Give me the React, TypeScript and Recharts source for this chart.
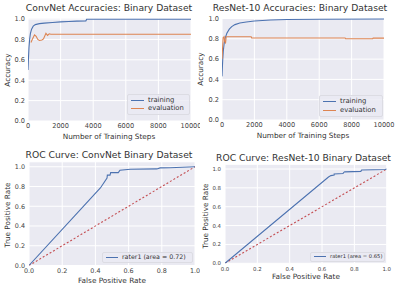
import React from "react";
import { LineChart, Line, XAxis, YAxis, CartesianGrid } from "recharts";

const BG = "#EAEAF2";
const INK = "#333333";
const TICK_INK = "#444444";
const BLUE = "#4C72B0";
const ORANGE = "#DD8452";
const RED = "#C44E52";
const FONT = "'DejaVu Sans', sans-serif";

const STEP_TICKS = [0, 2000, 4000, 6000, 8000, 10000];
const UNIT_TICKS = [0, 0.2, 0.4, 0.6, 0.8, 1.0];

// ConvNet accuracies
const convTrainSteps = [0, 30, 60, 100, 150, 220, 320, 450, 700, 1000, 1500, 2000, 2500, 3000, 3550, 3600, 10000];
const convTrainAcc = [0.5, 0.62, 0.72, 0.8, 0.86, 0.9, 0.93, 0.945, 0.955, 0.96, 0.966, 0.972, 0.976, 0.979, 0.982, 0.998, 0.998];
const convEvalSteps = [180, 260, 400, 500, 600, 700, 850, 950, 1100, 1200, 1300, 1400, 10000];
const convEvalAcc = [0.77, 0.8, 0.845, 0.83, 0.8, 0.79, 0.795, 0.805, 0.86, 0.84, 0.855, 0.85, 0.85];

// ResNet-10 accuracies
const resTrainSteps = [0, 40, 80, 130, 200, 300, 450, 600, 800, 1100, 1500, 2000, 3000, 4000, 6000, 10000];
const resTrainAcc = [0.43, 0.58, 0.68, 0.75, 0.81, 0.855, 0.895, 0.92, 0.94, 0.955, 0.966, 0.975, 0.985, 0.99, 0.993, 0.995];
const resEvalSteps = [0, 70, 130, 170, 220, 260, 1800, 1830, 7600, 7630, 9300, 9330, 10000];
const resEvalAcc = [0.6, 0.81, 0.82, 0.77, 0.76, 0.82, 0.82, 0.808, 0.808, 0.8, 0.8, 0.807, 0.807];

// ROC curves
const convFpr = [0, 0.43, 0.47, 0.472, 0.488, 0.492, 0.538, 0.548, 0.61, 0.77, 0.79, 0.85, 1];
const convTpr = [0, 0.785, 0.885, 0.915, 0.915, 0.94, 0.94, 0.965, 0.975, 0.978, 0.988, 0.99, 1];
const resFpr = [0, 0.64, 0.655, 0.675, 0.675, 0.73, 0.735, 0.74, 0.84, 0.845, 0.99, 1];
const resTpr = [0, 0.915, 0.93, 0.935, 0.947, 0.952, 0.965, 0.97, 0.975, 0.99, 0.995, 1];
const chanceFpr = [0, 1];
const chanceTpr = [0, 1];

const zip = (xs: number[], ys: number[]) => xs.map((x, i) => ({ x, y: ys[i] }));

type Series = { data: { x: number; y: number }[]; color: string; dash?: string };

function Panel({
  left, top, margin, yTop, xMax, xTicks, xFmt, tickFont, xGap, yGap, series,
}: {
  left: number; top: number; margin: { top: number; right: number; bottom: number; left: number };
  yTop: number; xMax: number; xTicks: number[]; xFmt: (v: number) => string;
  tickFont: number; xGap: number; yGap: number; series: Series[];
}) {
  const tick = { fontSize: tickFont, fill: TICK_INK, fontFamily: FONT };
  return (
    <div style={{ position: "absolute", left, top }}>
      <LineChart width={200} height={144} margin={margin}>
        <CartesianGrid fill={BG} fillOpacity={1} stroke="#fff" strokeWidth={1} />
        <XAxis
          type="number" dataKey="x" domain={[0, xMax]} ticks={xTicks} tickFormatter={xFmt}
          allowDataOverflow axisLine={false} tickLine={false} tickSize={0} tickMargin={xGap}
          height={18} tick={tick} interval={0}
        />
        <YAxis
          type="number" domain={[0, yTop]} ticks={UNIT_TICKS} tickFormatter={(v) => v.toFixed(1)}
          allowDataOverflow axisLine={false} tickLine={false} tickSize={0} tickMargin={yGap}
          width={20} tick={tick} interval={0}
        />
        {series.map((s, i) => (
          <Line
            key={i} data={s.data} dataKey="y" type="linear" stroke={s.color} strokeWidth={1.1}
            strokeDasharray={s.dash} dot={false} activeDot={false} isAnimationActive={false}
          />
        ))}
      </LineChart>
    </div>
  );
}

function Caption({ x, y, size, rotate, children }: { x: number; y: number; size: number; rotate?: boolean; children: React.ReactNode }) {
  return (
    <div
      style={{
        position: "absolute", left: x, top: y, whiteSpace: "nowrap", lineHeight: 1,
        transform: `translate(-50%, -50%)${rotate ? " rotate(-90deg)" : ""}`,
        fontSize: size, color: INK, fontFamily: FONT,
      }}
    >
      {children}
    </div>
  );
}

function LegendBox({ x, y, w, h, size, sample, items }: {
  x: number; y: number; w: number; h: number; size: number; sample: number;
  items: { label: string; color: string }[];
}) {
  return (
    <div
      style={{
        position: "absolute", left: x, top: y, width: w, height: h, boxSizing: "border-box",
        background: "rgba(234,234,242,0.8)", border: "1px solid #dcdce3", borderRadius: 2,
        display: "flex", flexDirection: "column", justifyContent: "space-evenly", paddingLeft: 3,
      }}
    >
      {items.map((it) => (
        <div key={it.label} style={{ display: "flex", alignItems: "center", lineHeight: 1 }}>
          <span style={{ width: sample, height: 1, background: it.color, marginRight: 4 }} />
          <span style={{ fontSize: size, color: INK, fontFamily: FONT }}>{it.label}</span>
        </div>
      ))}
    </div>
  );
}

const accLegend = [
  { label: "training", color: BLUE },
  { label: "evaluation", color: ORANGE },
];

export default function App() {
  const stepFmt = (v: number) => String(v);
  const unitFmt = (v: number) => v.toFixed(1);
  return (
    <div style={{ position: "fixed", left: 0, top: 0, width: 400, height: 288, background: "#fff", overflow: "hidden" }}>
      <Panel
        left={0} top={0} margin={{ top: 18, right: 9, bottom: 5, left: 8 }}
        yTop={1.01} xMax={10000} xTicks={STEP_TICKS} xFmt={stepFmt} tickFont={6.6} xGap={2} yGap={3}
        series={[
          { data: zip(convTrainSteps, convTrainAcc), color: BLUE },
          { data: zip(convEvalSteps, convEvalAcc), color: ORANGE },
        ]}
      />
      <Panel
        left={200} top={0} margin={{ top: 17.5, right: 16, bottom: 6, left: 2 }}
        yTop={1.01} xMax={10000} xTicks={STEP_TICKS} xFmt={stepFmt} tickFont={6.6} xGap={2} yGap={3}
        series={[
          { data: zip(resTrainSteps, resTrainAcc), color: BLUE },
          { data: zip(resEvalSteps, resEvalAcc), color: ORANGE },
        ]}
      />
      <Panel
        left={0} top={144} margin={{ top: 17.8, right: 5, bottom: 4.5, left: 9 }}
        yTop={1.05} xMax={1} xTicks={UNIT_TICKS} xFmt={unitFmt} tickFont={6.4} xGap={3} yGap={4}
        series={[
          { data: zip(chanceFpr, chanceTpr), color: RED, dash: "2 2" },
          { data: zip(convFpr, convTpr), color: BLUE },
        ]}
      />
      <Panel
        left={200} top={144} margin={{ top: 20.3, right: 13.3, bottom: 6.7, left: 5 }}
        yTop={1.05} xMax={1} xTicks={UNIT_TICKS} xFmt={unitFmt} tickFont={5.4} xGap={4} yGap={4}
        series={[
          { data: zip(chanceFpr, chanceTpr), color: RED, dash: "2 2" },
          { data: zip(resFpr, resTpr), color: BLUE },
        ]}
      />

      <Caption x={109} y={7.5} size={9.2}>ConvNet Accuracies: Binary Dataset</Caption>
      <Caption x={300} y={7.5} size={9.2}>ResNet-10 Accuracies: Binary Dataset</Caption>
      <Caption x={109} y={155} size={9.2}>ROC Curve: ConvNet Binary Dataset</Caption>
      <Caption x={303.5} y={158} size={9.2}>ROC Curve: ResNet-10 Binary Dataset</Caption>

      <Caption x={7.5} y={70} size={7.3} rotate>Accuracy</Caption>
      <Caption x={200.5} y={69} size={7.3} rotate>Accuracy</Caption>
      <Caption x={7.5} y={215} size={7.3} rotate>True Positive Rate</Caption>
      <Caption x={206} y={216} size={7.3} rotate>True Positive Rate</Caption>

      <Caption x={109} y={136.5} size={7.3}>Number of Training Steps</Caption>
      <Caption x={303} y={136} size={7.3}>Number of Training Steps</Caption>
      <Caption x={112} y={280.5} size={7.3}>False Positive Rate</Caption>
      <Caption x={306} y={277} size={7.3}>False Positive Rate</Caption>

      <LegendBox x={127} y={94} w={63} h={21} size={6.8} sample={13} items={accLegend} />
      <LegendBox x={319} y={95} w={64} h={22} size={6.8} sample={13} items={accLegend} />
      <LegendBox x={102} y={252} w={91} h={11} size={6.3} sample={12} items={[{ label: "rater1 (area = 0.72)", color: BLUE }]} />
      <LegendBox x={310} y={252} w={75} h={10} size={5.2} sample={12} items={[{ label: "rater1 (area = 0.65)", color: BLUE }]} />
    </div>
  );
}
